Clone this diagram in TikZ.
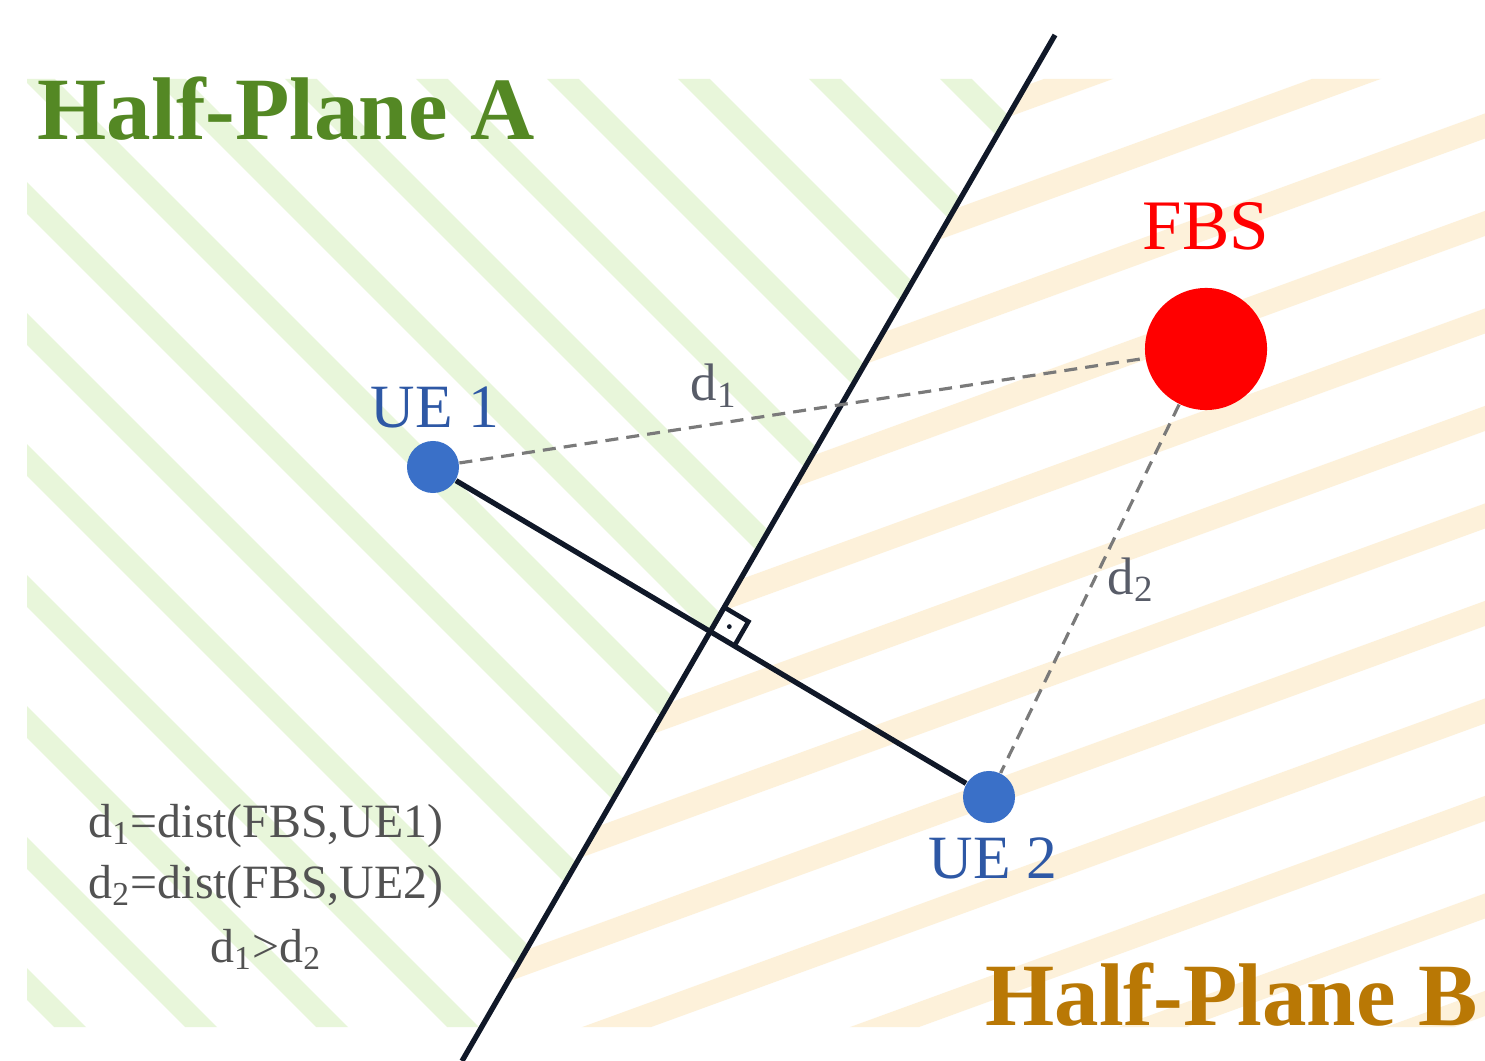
\documentclass[tikz,border=0pt]{standalone}
\usepackage{fontspec}
\setmainfont{Liberation Serif}
\usetikzlibrary{calc}
\definecolor{stripeA}{RGB}{232,246,218}
\definecolor{stripeB}{RGB}{253,241,218}
\definecolor{greenA}{RGB}{84,136,36}
\definecolor{goldB}{RGB}{185,120,5}
\definecolor{uefill}{RGB}{58,112,200}
\definecolor{uetext}{RGB}{46,88,165}
\definecolor{navy}{RGB}{16,24,40}
\definecolor{dashgray}{RGB}{122,122,122}
\definecolor{labgray}{RGB}{88,92,104}
\definecolor{txtgray}{RGB}{82,82,82}
\tikzset{
  stripeAline/.style={line width=6.4pt, color=stripeA},
  stripeBline/.style={line width=6.7pt, color=stripeB},
  uedot/.style={circle, fill=uefill, draw=none, minimum size=0.52cm, inner sep=0pt},
  fbsdot/.style={circle, fill=red, draw=none, minimum size=1.22cm, inner sep=0pt},
  mainline/.style={line width=1.5pt, color=navy},
  distline/.style={line width=0.9pt, color=dashgray, dash pattern=on 3.7pt off 2.3pt},
  planelabel/.style={inner sep=0pt, anchor=base, font=\fontsize{25.3}{30}\selectfont\bfseries},
  uelabel/.style={inner sep=0pt, anchor=base, text=uetext, font=\fontsize{17.5}{21}\selectfont},
  dlabel/.style={inner sep=0pt, anchor=base west, text=labgray, font=\fontsize{15}{18}\selectfont},
  blocktext/.style={inner sep=0pt, anchor=base, text=txtgray, font=\fontsize{13.6}{16}\selectfont}
}
\begin{document}
\begin{tikzpicture}[x=0.01cm,y=-0.01cm]
\useasboundingbox (0,0) rectangle (1485,1061);
\fill[white] (0,0) rectangle (1485,1061);
% half-plane A stripes
\begin{scope}
  \clip (27,79) -- (1029.57,79) -- (481.65,1027) -- (27,1027) -- cycle;
  \foreach \k in {-9,...,8}{
    \pgfmathsetmacro\c{171+131*\k}
    \draw[stripeAline] (-100,{\c-100}) -- (1700,{\c+1700});
  }
\end{scope}
% half-plane B stripes
\begin{scope}
  \clip (1029.57,79) -- (1485,79) -- (1485,1027) -- (481.65,1027) -- cycle;
  \foreach \k in {-4,...,11}{
    \pgfmathsetmacro\c{666.5+97.5*\k}
    \draw[stripeBline] (300,{\c-0.364*300}) -- (1700,{\c-0.364*1700});
  }
\end{scope}
% nodes
\coordinate (P) at (1055,35);
\coordinate (Q) at (462,1061);
\node[uedot] (U1) at (433,467) {};
\node[uedot] (U2) at (989,797) {};
\node[fbsdot] (F) at (1206,349) {};
% lines
\draw[mainline] (P) -- (Q);
\draw[mainline] (U1) -- (U2);
\draw[distline] (U1) -- (F);
\draw[distline] (F) -- (U2);
% right angle mark
\coordinate (X) at (intersection of U1--U2 and P--Q);
\coordinate (X1) at ($(X)!0.28cm!(P)$);
\coordinate (X2) at ($(X)!0.28cm!(U2)$);
\coordinate (X3) at ($(X1)+(X2)-(X)$);
\draw[line width=1.3pt, color=navy] (X1) -- (X3) -- (X2);
\fill[navy] ($(X)!0.5!(X3)$) circle[radius=2.4];
% labels
\node[planelabel, anchor=base west, text=greenA] (HA) at (37,140) {Half-Plane A};
\node[planelabel, anchor=base east, text=goldB] (HB) at (1478,1025) {Half-Plane B};
\node[inner sep=0pt, anchor=base, text=red, font=\fontsize{20.2}{24}\selectfont] (FL) at (1206,250) {FBS};
\node[uelabel] (U1L) at (435,428) {UE 1};
\node[uelabel] (U2L) at (993,878) {UE 2};
\node[dlabel] (D1) at (690,400) {d\textsubscript{1}};
\node[dlabel] (D2) at (1107,594) {d\textsubscript{2}};
\node[blocktext] (T1) at (266,837) {d\textsubscript{1}=dist(FBS,UE1)};
\node[blocktext] (T2) at (266,898) {d\textsubscript{2}=dist(FBS,UE2)};
\node[blocktext] (T3) at (266,962) {d\textsubscript{1}>d\textsubscript{2}};
\end{tikzpicture}
\end{document}
